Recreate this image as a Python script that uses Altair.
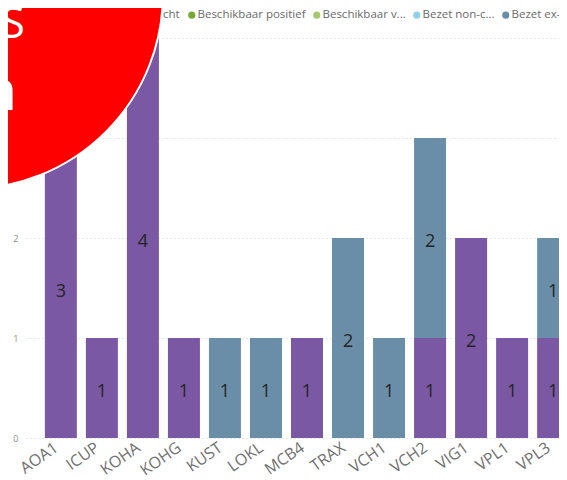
import altair as alt
import pandas as pd

categories = ["AOA1", "ICUP", "KOHA", "KOHG", "KUST", "LOKL", "MCB4",
              "TRAX", "VCH1", "VCH2", "VIG1", "VPL1", "VPL3"]
bezet_positief = [3, 1, 4, 1, 0, 0, 1, 0, 0, 1, 2, 1, 1]
bezet_ex_covid = [0, 0, 0, 0, 1, 1, 0, 2, 1, 2, 0, 0, 1]

series_names = ["Bezet positief", "Bezet verdacht", "Beschikbaar positief",
                "Beschikbaar verdacht", "Bezet non-covid", "Bezet ex-covid"]
series_colors = ["#7b58a4", "#c48ccf", "#76a933", "#a3c96c", "#8fd2e4", "#6b8ea8"]
legend_shown = ["Beschikbaar positief", "Beschikbaar verdacht", "Bezet non-covid", "Bezet ex-covid"]

rows = []
for c, a, b in zip(categories, bezet_positief, bezet_ex_covid):
    if a:
        rows.append({"cat": c, "series": "Bezet positief", "value": a, "rank": 0})
    if b:
        rows.append({"cat": c, "series": "Bezet ex-covid", "value": b, "rank": 5})
df = pd.DataFrame(rows)

FONT = "Open Sans"

x_enc = alt.X("cat:N", sort=categories,
              scale=alt.Scale(range=[0, 562], paddingInner=0.22, paddingOuter=0.46),
              axis=alt.Axis(title=None, labelAngle=-35, labelAlign="right", labelBaseline="top",
                            labelFontSize=16, labelColor="#707070", labelFont=FONT,
                            domain=False, ticks=False, labelPadding=1, labelOffset=-9, grid=False))

y_scale = alt.Scale(domain=[0, 4], nice=False)

bars = alt.Chart(df).mark_bar().encode(
    x=x_enc,
    y=alt.Y("value:Q", stack="zero", scale=y_scale,
            axis=alt.Axis(title=None, values=[0, 1, 2, 3, 4], format="d", labelFontSize=9,
                          labelColor="#8a8a8a", labelFont=FONT, domain=False, ticks=False,
                          labelPadding=8, gridColor="#d0d0d0", gridDash=[1, 3], gridWidth=1)),
    color=alt.Color("series:N",
                    scale=alt.Scale(domain=series_names, range=series_colors),
                    legend=alt.Legend(values=legend_shown, orient="none", legendX=137, legendY=-29,
                                      direction="horizontal", title="cht", titleOrient="left",
                                      titleFontWeight="normal", titleFontSize=11.5, titleColor="#6a6a6a",
                                      titleFont=FONT, titlePadding=6,
                                      labelFont=FONT, labelFontSize=11.5, labelColor="#6a6a6a",
                                      symbolType="circle", symbolSize=50, symbolStrokeWidth=0,
                                      labelOffset=0, columnPadding=5,
                                      labelExpr="datum.label == 'Beschikbaar verdacht' ? 'Beschikbaar v...' : datum.label == 'Bezet non-covid' ? 'Bezet non-c...' : datum.label == 'Bezet ex-covid' ? 'Bezet ex-c...' : datum.label")),
    order=alt.Order("rank:Q"),
)

labels = alt.Chart(df).transform_stack(
    stack="value", as_=["y0", "y1"], groupby=["cat"], sort=[alt.SortField("rank")]
).transform_calculate(mid="(datum.y0 + datum.y1) / 2").mark_text(
    fontSize=18, color="#252423", font=FONT, dy=4, baseline="middle"
).encode(
    x=alt.X("cat:N", sort=categories),
    y=alt.Y("mid:Q"),
    text=alt.Text("value:Q"),
)

badge_df = pd.DataFrame({"k": [0]})
badge = alt.Chart(badge_df).mark_point(
    shape="circle", filled=True, fill="#ff0000", stroke="#ffffff", strokeWidth=2,
    opacity=1, size=152000
).encode(x=alt.value(-58), y=alt.value(-44))

badge_top = alt.Chart(badge_df).mark_text(
    text="TS", align="right", baseline="alphabetic", fontSize=44, color="#ffffff", font=FONT
).encode(x=alt.value(-1), y=alt.value(0))

badge_mid = alt.Chart(badge_df).mark_text(
    text="n", align="right", baseline="alphabetic", fontSize=56, color="#ffffff", font=FONT
).encode(x=alt.value(-9), y=alt.value(72))

chart = alt.layer(bars, labels, badge, badge_top, badge_mid).properties(
    width=533, height=400,
    autosize=alt.AutoSizeParams(type="none"),
    padding={"left": 18, "top": 30, "right": 0, "bottom": 42},
    background="white",
).configure_view(stroke=None)

chart.save("out.html", embed_options={"renderer": "svg", "actions": False})
